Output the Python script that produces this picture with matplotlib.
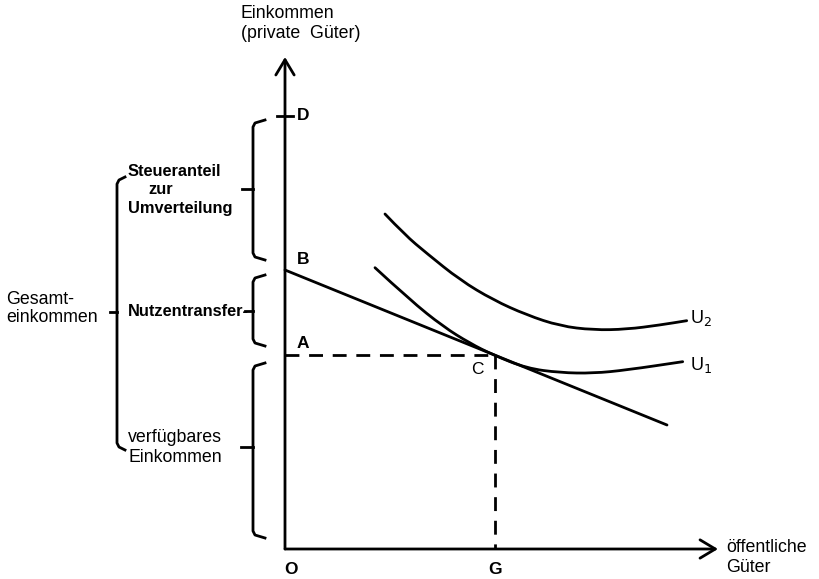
import matplotlib
matplotlib.use("Agg")
import matplotlib.pyplot as plt
from matplotlib.path import Path
from matplotlib.patches import PathPatch

plt.rcParams['font.family'] = ['Liberation Sans', 'DejaVu Sans']

# ---- data (diagram units, origin O) ----
x_axis_end = 433
y_axis_end = 492
level_D = 433
level_B = 279
level_A = 194
G_x = 210
budget_x = [0, 382]
budget_y = [279, 124]
u1_x = [90, 125, 158.3, 185, 208.3, 241.7, 275, 308.3, 341.7, 397.7]
u1_y = [281.3, 249, 222.3, 205.7, 194, 180.7, 176.3, 175.7, 179, 187.3]
u2_x = [100, 120, 141.7, 175, 208.3, 241.7, 275, 308.3, 341.7, 375, 401.7]
u2_y = [335, 314, 295.7, 269, 249, 234, 223, 219, 219.7, 224, 228.3]

LW = 2.0
fig = plt.figure(figsize=(8.19, 5.79), dpi=100)
ax = fig.add_axes([0, 0, 1, 1])
ax.set_xlim(-285, 534)
ax.set_ylim(-30, 549)
ax.axis('off')

def smooth(xs, ys):
    pts = list(zip(xs, ys))
    verts = [pts[0]]
    codes = [Path.MOVETO]
    for i in range(1, len(pts) - 1):
        mid = ((pts[i][0] + pts[i + 1][0]) / 2, (pts[i][1] + pts[i + 1][1]) / 2)
        verts += [pts[i], mid]
        codes += [Path.CURVE3, Path.CURVE3]
    verts.append(pts[-1])
    codes.append(Path.LINETO)
    return PathPatch(Path(verts, codes), fill=False, lw=LW, color='black', capstyle='round')

# axes with arrows
for xy in [(0, y_axis_end), (x_axis_end, 0)]:
    ax.annotate('', xy=xy, xytext=(0, 0),
                arrowprops=dict(arrowstyle='->,head_width=0.33,head_length=0.55', lw=LW, color='black',
                                shrinkA=0, shrinkB=0, mutation_scale=20))

# D tick
ax.plot([-8, 8], [level_D, level_D], color='black', lw=LW)

# budget line
ax.plot(budget_x, budget_y, color='black', lw=LW, solid_capstyle='round')

# dashed lines
ax.plot([0, G_x], [level_A, level_A], color='black', lw=LW, dashes=(5, 3.5))
ax.plot([G_x, G_x], [level_A, 0], color='black', lw=LW, dashes=(5, 3.5))

# indifference curves
ax.add_patch(smooth(u1_x, u1_y))
ax.add_patch(smooth(u2_x, u2_y))

fb = 11.8
fr = 12.8
ax.text(12, level_D, 'D', fontsize=12.5, fontweight='bold', va='center', ha='left')
ax.text(12, level_B + 10, 'B', fontsize=12.5, fontweight='bold', va='center', ha='left')
ax.text(12, level_A + 11, 'A', fontsize=12.5, fontweight='bold', va='center', ha='left')
ax.text(G_x - 11, level_A - 14, 'C', fontsize=12.5, va='center', ha='right')
ax.text(6, -21, 'O', fontsize=12.5, fontweight='bold', va='center', ha='center')
ax.text(G_x, -21, 'G', fontsize=12.5, fontweight='bold', va='center', ha='center')
ax.text(405, 231, r'U$_2$', fontsize=13, va='center', ha='left')
ax.text(405, 184, r'U$_1$', fontsize=13, va='center', ha='left')
ax.text(441, 1, 'öffentliche', fontsize=fr, va='center', ha='left')
ax.text(441, -18, 'Güter', fontsize=fr, va='center', ha='left')
ax.text(-44, 535, 'Einkommen', fontsize=fr, va='center', ha='left')
ax.text(-44, 516, '(private  Güter)', fontsize=fr, va='center', ha='left')

# brackets (diagram units)
def bracket(x, top, bottom, mid, tick_len, serif=12):
    ax.plot([x + serif, x + 2, x, x, x + 2, x + serif],
            [top + 3, top, top - 4, bottom + 4, bottom, bottom - 3],
            color='black', lw=LW, solid_joinstyle='round')
    ax.plot([x - tick_len, x], [mid, mid], color='black', lw=LW)

bracket(-32, 549 - 123, 549 - 257, 549 - 189, 11)
bracket(-32, 549 - 278, 549 - 343, 549 - 311, 8)
bracket(-32, 549 - 366, 549 - 535, 549 - 447, 12)
bracket(-168, 549 - 180, 549 - 447, 549 - 312, 7, serif=8)

ax.text(-157, 549 - 172, 'Steueranteil', fontsize=fb, fontweight='bold', va='center', ha='left')
ax.text(-137, 549 - 190, 'zur', fontsize=fb, fontweight='bold', va='center', ha='left')
ax.text(-157, 549 - 208, 'Umverteilung', fontsize=fb, fontweight='bold', va='center', ha='left')
ax.text(-157, 549 - 311, 'Nutzentransfer-', fontsize=fb, fontweight='bold', va='center', ha='left')
ax.text(-157, 549 - 438, 'verfügbares', fontsize=fr, va='center', ha='left')
ax.text(-157, 549 - 457, 'Einkommen', fontsize=fr, va='center', ha='left')
ax.text(-279, 549 - 300, 'Gesamt-', fontsize=fr, va='center', ha='left')
ax.text(-279, 549 - 318, 'einkommen', fontsize=fr, va='center', ha='left')

fig.savefig('out.png', dpi=100)
